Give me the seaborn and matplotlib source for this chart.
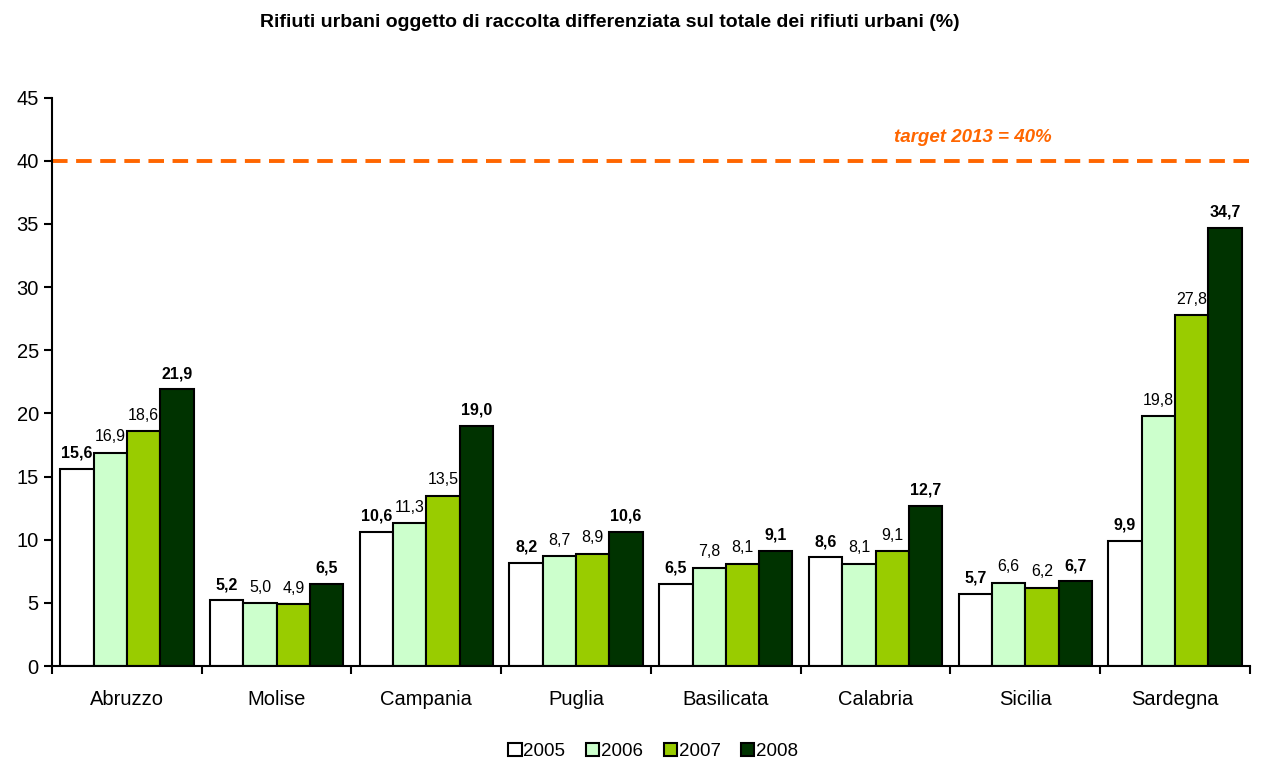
import matplotlib
matplotlib.use("Agg")
import pandas as pd
import matplotlib.pyplot as plt
import seaborn as sns

# data
regions = ['Abruzzo', 'Molise', 'Campania', 'Puglia', 'Basilicata',
           'Calabria', 'Sicilia', 'Sardegna']
years = ['2005', '2006', '2007', '2008']
v2005 = [15.6, 5.2, 10.6, 8.2, 6.5, 8.6, 5.7, 9.9]
v2006 = [16.9, 5.0, 11.3, 8.7, 7.8, 8.1, 6.6, 19.8]
v2007 = [18.6, 4.9, 13.5, 8.9, 8.1, 9.1, 6.2, 27.8]
v2008 = [21.9, 6.5, 19.0, 10.6, 9.1, 12.7, 6.7, 34.7]
target = 40
colors = ['#FFFFFF', '#CCFFCC', '#99CC00', '#003300']

rows = []
for y, vals in zip(years, [v2005, v2006, v2007, v2008]):
    for r, v in zip(regions, vals):
        rows.append({'Regione': r, 'Anno': y, 'Valore': v})
df = pd.DataFrame(rows)

sns.set_style('white')
plt.rcParams['font.family'] = ['Liberation Sans', 'DejaVu Sans']
plt.rcParams['text.color'] = 'black'
plt.rcParams['xtick.color'] = 'black'
plt.rcParams['ytick.color'] = 'black'

fig = plt.figure(figsize=(12.84, 7.63), dpi=100)
ax = fig.add_axes([0.0405, 0.127, 0.933, 0.745])

sns.barplot(data=df, x='Regione', y='Valore', hue='Anno', order=regions,
            hue_order=years, palette=colors, saturation=1, edgecolor='black',
            linewidth=1.5, width=0.89, gap=0, ax=ax, legend=True)

# value labels: 2005 and 2008 bold
for i, cont in enumerate(ax.containers):
    labs = [f'{b.get_height():.1f}'.replace('.', ',') for b in cont]
    weight = 'bold' if i in (0, 3) else 'normal'
    ax.bar_label(cont, labels=labs, padding=6, fontsize=11.5,
                 fontweight=weight, color='black')

ax.axhline(target, color='#FF6600', linestyle=(0, (4, 2.2)), linewidth=2.8,
           zorder=0)
ax.text(0.769, 41.2, 'target 2013 = 40%', color='#FF6600', fontsize=13.5,
        fontweight='bold', fontstyle='italic', ha='center', va='bottom',
        transform=ax.get_yaxis_transform())

ax.set_ylim(0, 45)
ax.set_xlim(-0.5, len(regions) - 0.5)
ax.set_yticks(range(0, 50, 5))
ax.set_xticks([i for i in range(len(regions))])
ax.set_xticklabels(regions, fontsize=14.5)
ax.tick_params(axis='y', labelsize=14.5, direction='out', length=6, width=1.5,
               left=True)
ax.tick_params(axis='x', length=0, pad=17)
# category boundary ticks
ax.set_xticks([i - 0.5 for i in range(len(regions) + 1)], minor=True)
ax.tick_params(axis='x', which='minor', direction='out', length=6, width=1.5,
               bottom=True)
ax.set_xlabel('')
ax.set_ylabel('')
sns.despine(ax=ax, top=True, right=True)
for s in ['left', 'bottom']:
    ax.spines[s].set_linewidth(1.5)
    ax.spines[s].set_color('black')

leg = ax.legend(loc='center', bbox_to_anchor=(0.502, -0.15), ncol=4,
                frameon=False, fontsize=13.5, handlelength=0.7,
                handleheight=0.7, handletextpad=0.1, columnspacing=1.1)

fig.suptitle('Rifiuti urbani oggetto di raccolta differenziata sul totale '
             'dei rifiuti urbani (%)', x=0.475, y=0.982, fontsize=14,
             fontweight='bold')

fig.savefig('out.png', dpi=100)
